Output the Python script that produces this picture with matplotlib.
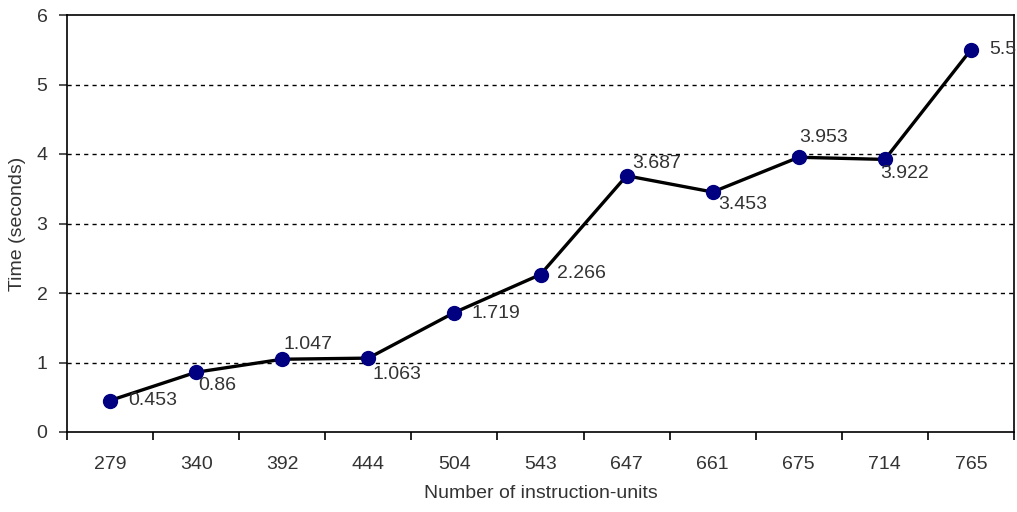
import numpy as np
import matplotlib
matplotlib.use("Agg")
import matplotlib.pyplot as plt

# instruction-unit counts and measured run time
units = ['279', '340', '392', '444', '504', '543', '647', '661', '675', '714', '765']
times = [0.453, 0.86, 1.047, 1.063, 1.719, 2.266, 3.687, 3.453, 3.953, 3.922, 5.5]

# where each value label sits relative to its point (pixels)
label_offsets = [(18, 0), (2, -13), (1, 15), (4, -16), (17, -1), (17, 1),
                 (6, 12), (6, -12), (0, 20), (-5, -14), (18, 0)]

plt.rcParams['font.family'] = ['Liberation Sans', 'DejaVu Sans']
plt.rcParams['font.size'] = 14
txt_color = '#333333'

fig = plt.figure(figsize=(10.17, 5.12), dpi=100)
ax = fig.add_axes([67/1017, 80/512, 947/1017, 417/512])

x = np.arange(len(units))
ax.plot(x, times, color='black', lw=2.4, marker='o', ms=10,
        mfc='#000080', mec='#000080', zorder=3)

for xi, t, (dx, dy) in zip(x, times, label_offsets):
    ax.annotate('%g' % t, (xi, t), xytext=(dx, dy), textcoords='offset pixels',
                ha='left', va='center', color=txt_color, fontsize=14, zorder=4)

ax.set_xlim(-0.5, len(units) - 0.5)
ax.set_ylim(0, 6)
ax.set_yticks(range(0, 7))
ax.set_xticks(x)
ax.set_xticklabels(units)
ax.set_xticks(np.arange(-0.5, len(units)), minor=True)

for yv in range(1, 6):
    ax.axhline(yv, color='black', lw=1, ls=(0, (3, 3)), zorder=1)

ax.tick_params(axis='x', which='major', length=0, pad=17, colors=txt_color)
ax.tick_params(axis='x', which='minor', length=6, width=1.2, direction='out')
ax.tick_params(axis='y', length=6, width=1.2, direction='out', pad=8, colors=txt_color)
for side in ax.spines.values():
    side.set_linewidth(1.2)

ax.set_xlabel('Number of instruction-units', color=txt_color, va='center')
ax.set_ylabel('Time (seconds)', color=txt_color, va='center')
ax.xaxis.set_label_coords(0.5, (432 - 494) / 417)
ax.yaxis.set_label_coords((18 - 67) / 947, 0.5)

fig.savefig('out.png', dpi=100)
